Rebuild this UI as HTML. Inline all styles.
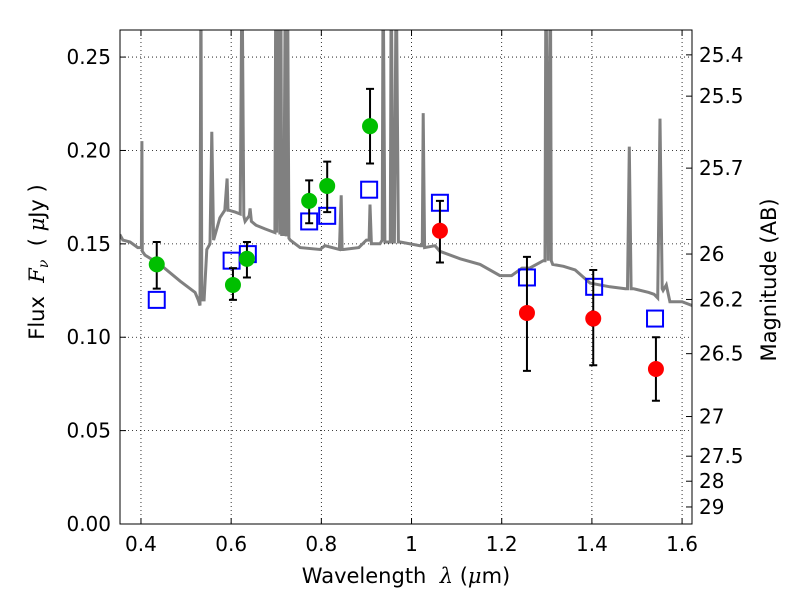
<!DOCTYPE html>
<html><head><meta charset="utf-8"><style>
body{margin:0;background:#fff;font-family:"DejaVu Sans","Liberation Sans",sans-serif}
svg text{font-family:"DejaVu Sans","Liberation Sans",sans-serif;fill:#000;white-space:pre}
</style></head><body>
<svg id="c" width="800" height="600" viewBox="0 0 800 600" xmlns="http://www.w3.org/2000/svg"></svg>
<script>
const specWave=[0.353,0.36,0.376,0.393,0.401,0.402,0.403,0.409,0.442,0.487,0.52,0.527,0.531,0.533,0.535,0.54,0.546,0.553,0.557,0.561,0.575,0.586,0.591,0.593,0.595,0.609,0.62,0.624,0.628,0.631,0.64,0.642,0.645,0.655,0.675,0.697,0.699,0.701,0.703,0.708,0.71,0.712,0.717,0.72,0.722,0.725,0.728,0.731,0.753,0.797,0.808,0.84,0.844,0.846,0.849,0.883,0.9,0.906,0.908,0.911,0.93,0.935,0.937,0.941,0.953,0.955,0.959,0.962,0.966,0.971,0.975,1.019,1.024,1.026,1.029,1.052,1.063,1.108,1.152,1.196,1.222,1.245,1.262,1.292,1.296,1.298,1.303,1.308,1.31,1.313,1.337,1.363,1.396,1.44,1.474,1.479,1.483,1.487,1.492,1.526,1.538,1.546,1.551,1.556,1.558,1.565,1.573,1.6,1.622];
const specFlux=[0.155,0.152,0.151,0.148,0.148,0.205,0.146,0.144,0.139,0.130,0.124,0.120,0.117,0.30,0.12,0.12,0.147,0.150,0.21,0.152,0.164,0.168,0.185,0.168,0.168,0.167,0.166,0.30,0.165,0.162,0.165,0.169,0.162,0.160,0.158,0.156,0.30,0.156,0.30,0.155,0.30,0.155,0.155,0.30,0.154,0.30,0.153,0.152,0.148,0.147,0.149,0.147,0.176,0.147,0.147,0.148,0.152,0.152,0.171,0.150,0.150,0.152,0.30,0.151,0.151,0.30,0.151,0.151,0.30,0.151,0.151,0.149,0.149,0.22,0.148,0.149,0.146,0.142,0.139,0.133,0.133,0.137,0.137,0.141,0.141,0.30,0.141,0.30,0.141,0.139,0.138,0.136,0.129,0.127,0.126,0.126,0.202,0.126,0.126,0.124,0.123,0.121,0.217,0.126,0.125,0.128,0.119,0.119,0.117];
const greenWave=[0.435,0.604,0.635,0.773,0.813,0.908];
const greenFlux=[0.139,0.128,0.142,0.173,0.181,0.213];
const greenLo=[0.126,0.120,0.132,0.161,0.167,0.193];
const greenHi=[0.151,0.137,0.151,0.184,0.194,0.233];
const redWave=[1.063,1.256,1.403,1.542];
const redFlux=[0.157,0.113,0.110,0.083];
const redLo=[0.140,0.082,0.085,0.066];
const redHi=[0.173,0.143,0.136,0.100];
const sqWave=[0.435,0.601,0.637,0.773,0.813,0.906,1.063,1.256,1.405,1.54];
const sqFlux=[0.120,0.141,0.1445,0.162,0.165,0.179,0.172,0.132,0.127,0.110];
const xTicks=[0.4,0.6,0.8,1.0,1.2,1.4,1.6];
const xTickLabels=["0.4","0.6","0.8","1","1.2","1.4","1.6"];
const yTicks=[0,0.05,0.10,0.15,0.20,0.25];
const yTickLabels=["0.00","0.05","0.10","0.15","0.20","0.25"];
const magTicks=[25.4,25.5,25.7,26,26.2,26.5,27,27.5,28,29];

const L=120,R=692,T=30,B=524;
const X0=0.3535,X1=1.622,Y0=0,Y1=0.2645;
const sx=v=>L+(v-X0)/(X1-X0)*(R-L);
const sy=v=>B-(v-Y0)/(Y1-Y0)*(B-T);
const svg=document.getElementById('c');
const NS="http://www.w3.org/2000/svg";
function mk(tag,attrs,parent){const e=document.createElementNS(NS,tag);for(const k in attrs)e.setAttribute(k,attrs[k]);(parent||svg).appendChild(e);return e;}

const defs=mk('defs',{});
const cp=mk('clipPath',{id:'clip'},defs);
mk('rect',{x:L,y:T,width:R-L,height:B-T},cp);

xTicks.forEach(v=>{const g=mk('line',{x1:sx(v),x2:sx(v),y1:T,y2:B,stroke:'#000','stroke-width':0.8,'stroke-dasharray':'1,3'});

});
yTicks.forEach(v=>{const g=mk('line',{x1:L,x2:R,y1:sy(v),y2:sy(v),stroke:'#000','stroke-width':0.8,'stroke-dasharray':'1,3'});

});

let d=specWave.map((w,i)=>(i?'L':'M')+sx(w).toFixed(1)+','+sy(specFlux[i]).toFixed(1)).join(' ');
const sp=mk('path',{d:d,fill:'none',stroke:'#808080','stroke-width':3,'clip-path':'url(#clip)'});



sqWave.forEach((w,i)=>{const r=mk('rect',{x:sx(w)-8,y:sy(sqFlux[i])-8,width:16,height:16,fill:'none',stroke:'#0000ff','stroke-width':2});

});

function pts(W,F,Lo,Hi,col,name){
 W.forEach((w,i)=>{
  const x=sx(w);
  const e=mk('path',{d:`M${x},${sy(Lo[i])}V${sy(Hi[i])}M${x-4},${sy(Lo[i])}H${x+4}M${x-4},${sy(Hi[i])}H${x+4}`,stroke:'#000','stroke-width':2,fill:'none'});
  
  
  const c=mk('circle',{cx:x,cy:sy(F[i]),r:8,fill:col});
  
  
 });
}
pts(greenWave,greenFlux,greenLo,greenHi,'#00bf00','optical-observed');
pts(redWave,redFlux,redLo,redHi,'#ff0000','nir-observed');

const fr=mk('rect',{x:L,y:T,width:R-L,height:B-T,fill:'none',stroke:'#000','stroke-width':1});



xTicks.forEach((v,i)=>{const x=sx(v);
 mk('line',{x1:x,x2:x,y1:B,y2:B-6,stroke:'#000'});mk('line',{x1:x,x2:x,y1:T,y2:T+6,stroke:'#000'});
 const t=mk('text',{x:x,y:B+27,'font-size':20,'text-anchor':'middle'});t.textContent=xTickLabels[i];
 
 });
yTicks.forEach((v,i)=>{const y=sy(v);
 mk('line',{x1:L,x2:L+6,y1:y,y2:y,stroke:'#000'});
 const t=mk('text',{x:L-9,y:y+7,'font-size':20,'text-anchor':'end'});t.textContent=yTickLabels[i];
 
 });
magTicks.forEach(m=>{const f=Math.pow(10,(23.9-m)/2.5);const y=sy(f);
 mk('line',{x1:R,x2:R-6,y1:y,y2:y,stroke:'#000'});
 const t=mk('text',{x:R+7,y:y+7,'font-size':20});t.textContent=String(m);
 
 });

const xt=mk('text',{x:406,y:583,'font-size':21,'text-anchor':'middle'});
xt.innerHTML='Wavelength  <tspan font-style="italic" font-family="DejaVu Serif">λ</tspan> (<tspan font-style="italic" font-family="DejaVu Serif">μ</tspan>m)';


const yt=mk('text',{x:0,y:0,'font-size':21,'text-anchor':'middle',transform:'translate(44,262) rotate(-90)'});
yt.innerHTML='Flux  <tspan font-style="italic" font-family="DejaVu Serif">F</tspan><tspan font-style="italic" font-family="DejaVu Serif" font-size="14" dy="4">ν</tspan><tspan dy="-4">  ( </tspan><tspan font-style="italic" font-family="DejaVu Serif">μ</tspan>Jy )';


const rt=mk('text',{x:0,y:0,'font-size':21,'text-anchor':'middle',transform:'translate(776,280) rotate(-90)'});
rt.textContent='Magnitude (AB)';


</script>
</body></html>
